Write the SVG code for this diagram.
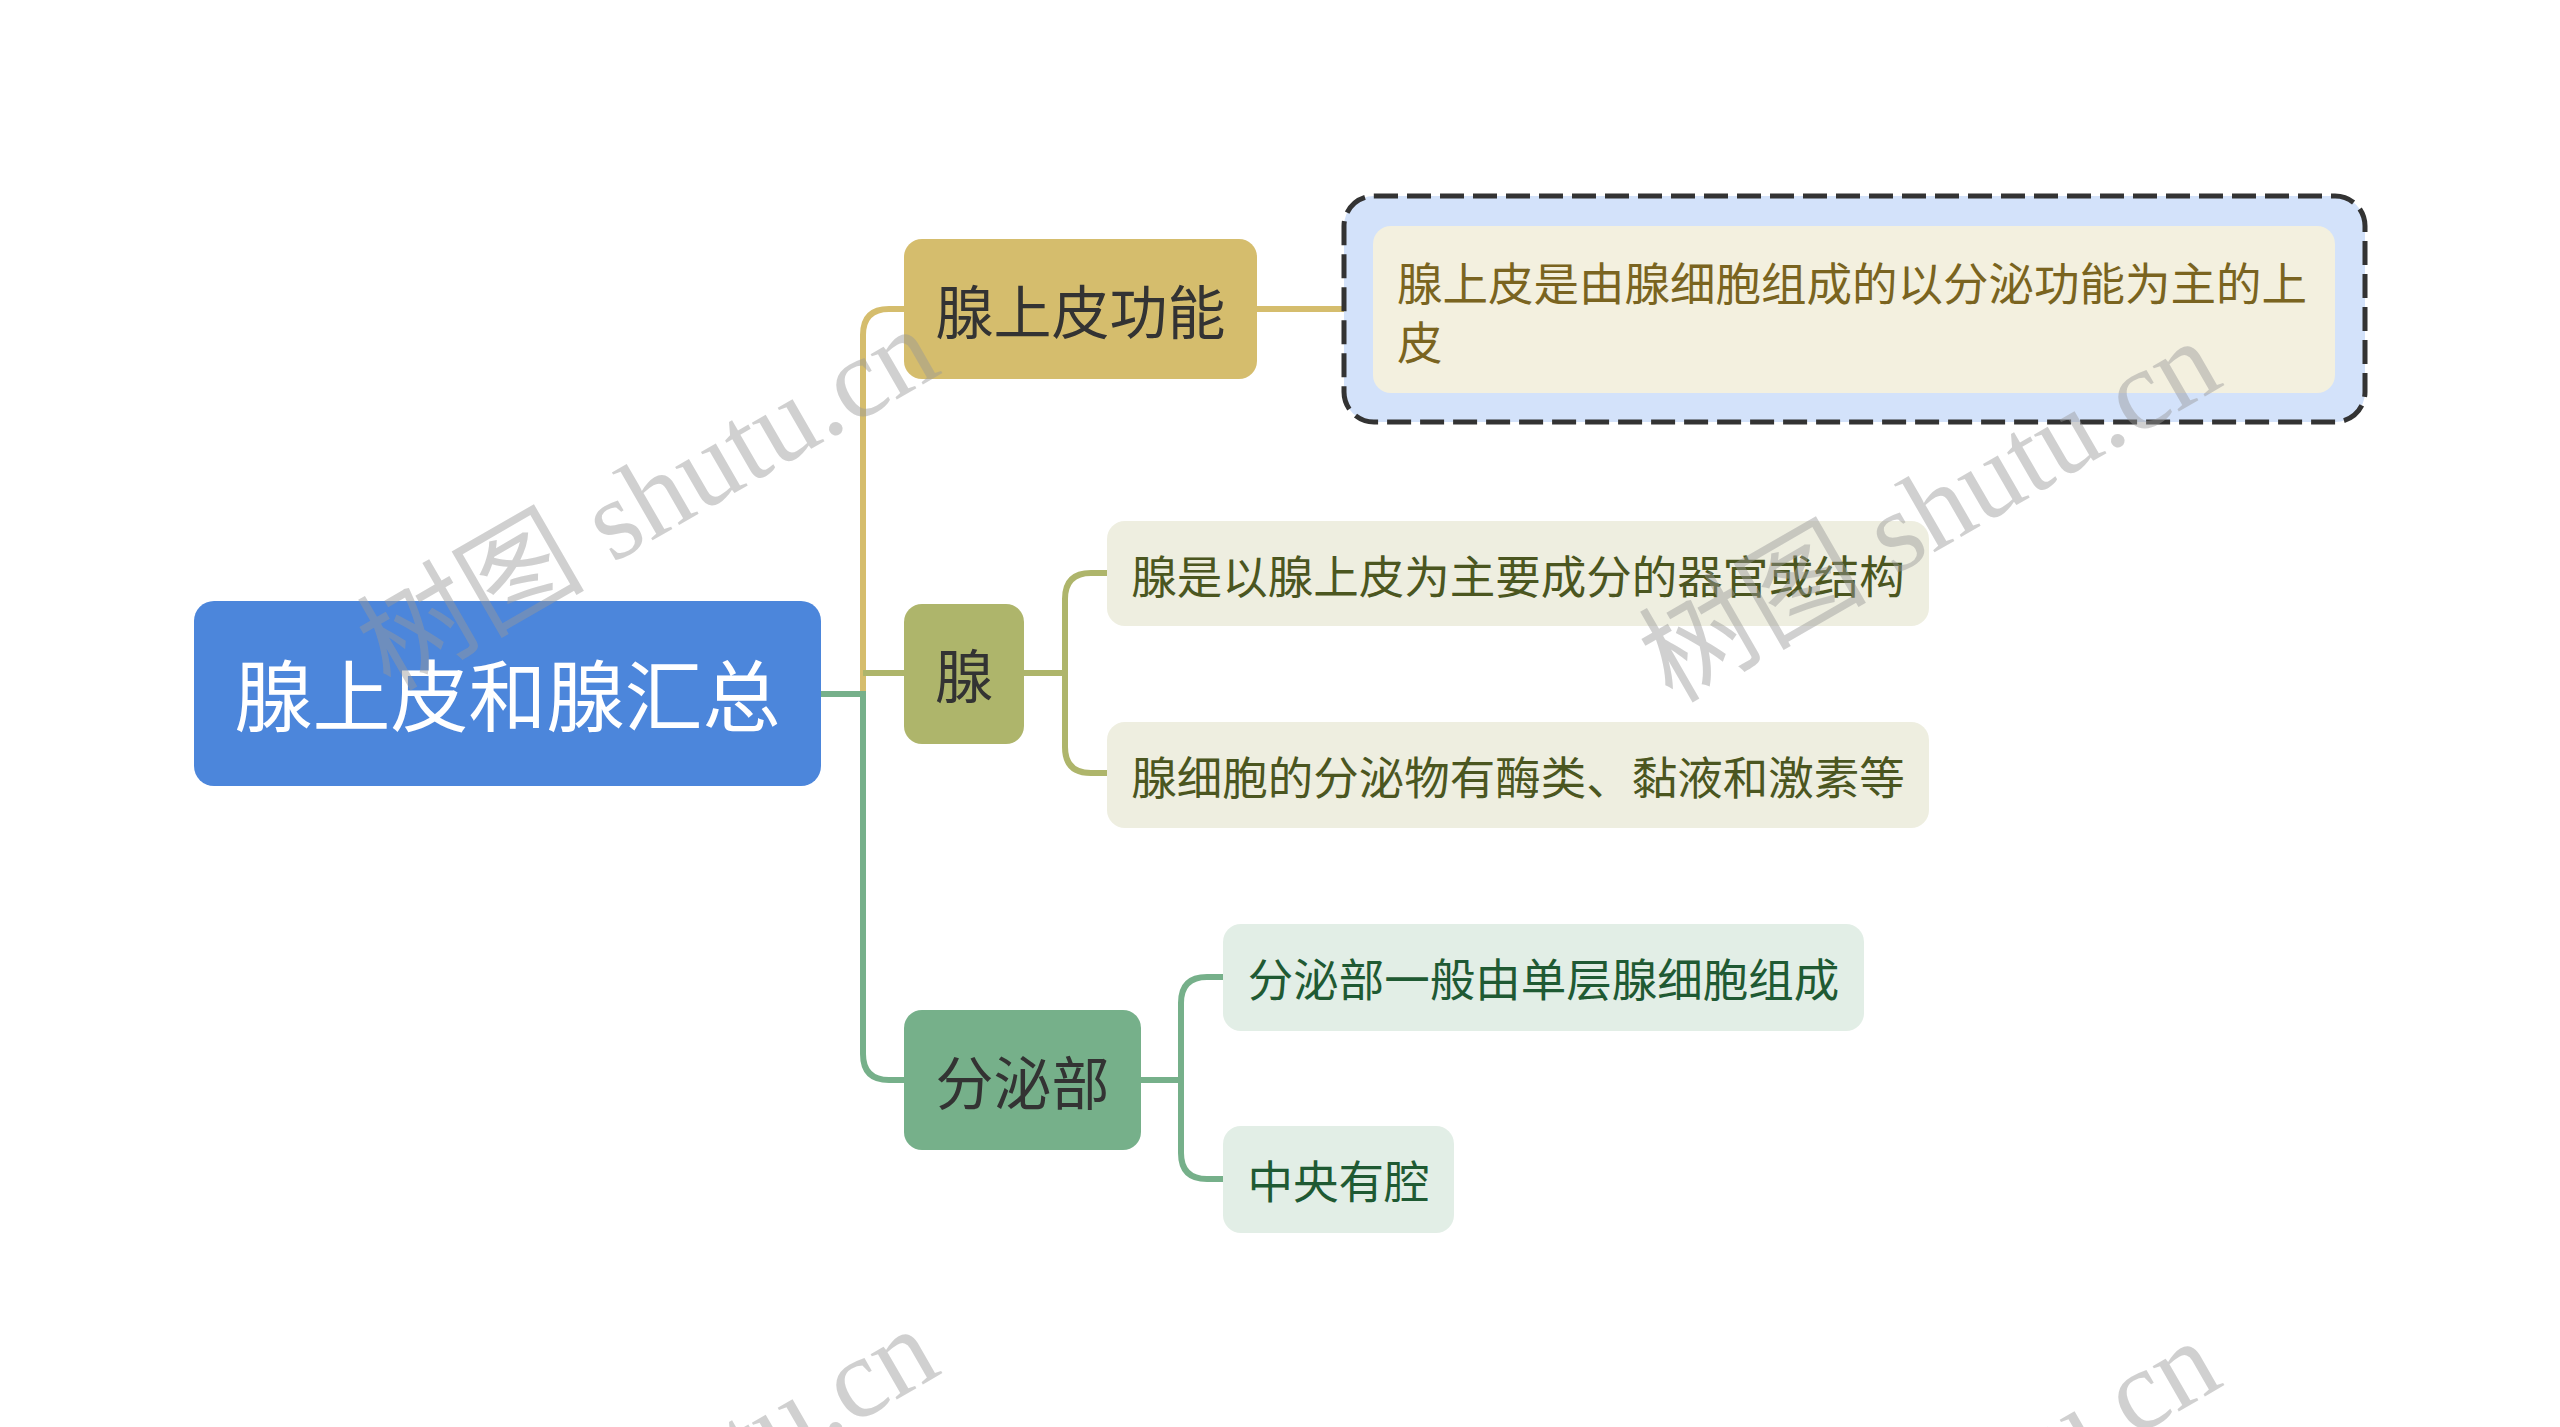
<svg xmlns="http://www.w3.org/2000/svg" width="2560" height="1427" viewBox="0 0 2560 1427">
<style>
.t{font-family:"Noto Sans CJK SC","Noto Sans",sans-serif;dominant-baseline:central;text-anchor:middle}
.root{font-size:78px;fill:#ffffff}
.topic{font-size:58px;fill:#333333}
.sub{font-size:45.5px}
.ln{fill:none;stroke-width:6;stroke-linecap:butt}
.wm{font-family:"Liberation Serif","Noto Sans CJK SC",serif;font-size:114px;fill:#999999;opacity:0.45}
</style>
<rect width="2560" height="1427" fill="#ffffff"/>
<g id="connectors">
<path class="ln" stroke="#D5BD6D" d="M863 694 V335 Q863 309 889 309 H905"/>
<path class="ln" stroke="#AEB56B" d="M863 673 H905"/>
<path class="ln" stroke="#76B08A" d="M821 694 H863 V1054 Q863 1080 889 1080 H905"/>
<path class="ln" stroke="#D5BD6D" d="M1257 309 H1374"/>
<path class="ln" stroke="#AEB56B" d="M1024 673 H1065 M1107 573 H1091 Q1065 573 1065 599 V747 Q1065 773 1091 773 H1107"/>
<path class="ln" stroke="#76B08A" d="M1141 1080 H1181 M1223 977 H1207 Q1181 977 1181 1003 V1153 Q1181 1179 1207 1179 H1223"/>
</g>
<g id="root">
<rect x="194" y="601" width="627" height="185" rx="20" fill="#4C86DB"/>
<text class="t root" x="507.5" y="692">腺上皮和腺汇总</text>
</g>
<g id="topic1">
<rect x="904" y="239" width="353" height="140" rx="18" fill="#D5BD6D"/>
<text class="t topic" x="1080.5" y="309">腺上皮功能</text>
</g>
<g id="topic1-sub">
<rect x="1344" y="196" width="1021" height="226" rx="30" fill="#D3E2FA" stroke="#333333" stroke-width="5" stroke-dasharray="24 9"/>
<rect x="1373" y="226" width="962" height="167" rx="18" fill="#F3F0DF"/>
<text class="t sub" x="1397" y="281" fill="#7A6420" style="text-anchor:start">腺上皮是由腺细胞组成的以分泌功能为主的上</text>
<text class="t sub" x="1397" y="340" fill="#7A6420" style="text-anchor:start">皮</text>
</g>
<g id="topic2">
<rect x="904" y="604" width="120" height="140" rx="18" fill="#AEB56B"/>
<text class="t topic" x="964" y="673">腺</text>
</g>
<g id="topic2-sub1">
<rect x="1107" y="521" width="822" height="105" rx="18" fill="#EEEEE0"/>
<text class="t sub" x="1518" y="574" fill="#4B5620">腺是以腺上皮为主要成分的器官或结构</text>
</g>
<g id="topic2-sub2">
<rect x="1107" y="722" width="822" height="106" rx="18" fill="#EEEEE0"/>
<text class="t sub" x="1518" y="775" fill="#4B5620">腺细胞的分泌物有酶类、黏液和激素等</text>
</g>
<g id="topic3">
<rect x="904" y="1010" width="237" height="140" rx="18" fill="#76B08A"/>
<text class="t topic" x="1022.5" y="1080">分泌部</text>
</g>
<g id="topic3-sub1">
<rect x="1223" y="924" width="641" height="107" rx="18" fill="#E2EEE6"/>
<text class="t sub" x="1543.5" y="977" fill="#1F5A33">分泌部一般由单层腺细胞组成</text>
</g>
<g id="topic3-sub2">
<rect x="1223" y="1126" width="231" height="107" rx="18" fill="#E2EEE6"/>
<text class="t sub" x="1338.5" y="1179" fill="#1F5A33">中央有腔</text>
</g>
<g id="watermarks">
<text class="wm" transform="translate(390 692) rotate(-30)">树图 shutu.cn</text>
<text class="wm" transform="translate(1672 704) rotate(-30)">树图 shutu.cn</text>
<text class="wm" transform="translate(390 1692) rotate(-30)">树图 shutu.cn</text>
<text class="wm" transform="translate(1672 1704) rotate(-30)">树图 shutu.cn</text>
</g>
</svg>
